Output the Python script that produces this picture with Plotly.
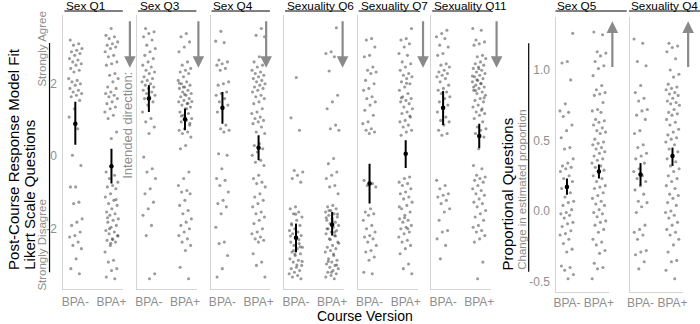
import plotly.graph_objects as go

# ---------------- data ----------------
categories = ["BPA-", "BPA+"]
left_questions = ["Sex Q1", "Sex Q3", "Sex Q4", "Sexuality Q6", "Sexuality Q7", "Sexuality Q11"]
right_questions = ["Sex Q5", "Sexuality Q4"]

sex_q1_minus = [3.19, 3.09, 3.05, 2.96, 2.91, 2.87, 2.82, 2.77, 2.68, 2.64, 2.59, 2.54, 2.50, 2.41, 2.36, 2.31,
                2.13, 2.08, 2.04, 1.99, 1.95, 1.86, 1.81, 1.76, 1.72, 1.67, 1.63, 1.53, 1.30, 1.07, 0.75, 0.02,
                -0.26, -0.85, -0.85, -1.27, -1.31, -1.73, -1.82, -1.91, -2.09, -2.19, -2.23, -2.37, -2.46, -2.55,
                -2.83, -3.10, -3.24]
sex_q1_plus = [3.51, 3.32, 3.28, 3.23, 3.14, 3.09, 3.05, 3.00, 2.96, 2.87, 2.77, 2.73, 2.59, 2.54, 2.50, 2.27,
               2.22, 2.13, 2.04, 1.90, 1.86, 1.76, 1.72, 1.67, 1.63, 1.58, 1.49, 1.44, 1.35, 1.30, 1.21, 1.12,
               1.03, 0.66, 0.48, -0.44, -0.53, -0.62, -0.72, -0.81, -0.85, -0.90, -1.04, -1.13, -1.22, -1.31,
               -1.36, -1.45, -1.54, -1.59, -1.63, -1.73, -1.77, -1.82, -1.91, -1.96, -2.05, -2.09, -2.14, -2.19,
               -2.28, -2.32, -2.37, -2.46, -2.64, -2.87, -2.92, -3.10, -3.15, -3.33, -3.38,
               -2.00, -2.20, -2.30, -1.70, -1.20, -2.40]
sex_q3_minus = [3.51, 3.42, 3.37, 3.28, 3.19, 3.05, 2.96, 2.87, 2.77, 2.68, 2.59, 2.50, 2.45, 2.36, 2.31, 2.27,
                2.18, 2.13, 2.08, 2.04, 1.99, 1.95, 1.90, 1.86, 1.81, 1.76, 1.72, 1.67, 1.63, 1.58, 1.49, 1.40,
                1.21, 1.03, 0.94, 0.80, 0.62, -0.03, -0.35, -0.44, -0.62, -0.90, -1.04, -1.27, -1.45, -1.63,
                -1.91, -2.19, -3.24, -3.38]
sex_q3_plus = [3.37, 3.28, 3.14, 3.00, 2.87, 2.59, 2.50, 2.41, 2.36, 2.31, 2.27, 2.18, 2.08, 2.04, 1.99, 1.95,
               1.90, 1.86, 1.81, 1.76, 1.72, 1.67, 1.63, 1.58, 1.53, 1.49, 1.44, 1.40, 1.35, 1.30, 1.21, 1.17,
               1.12, 1.03, 0.98, 0.94, 0.85, 0.75, 0.71, 0.66, 0.62, 0.52, 0.29, 0.20, -0.44, -0.62, -0.81,
               -0.95, -0.99, -1.04, -1.22, -1.36, -1.50, -1.59, -1.73, -1.82, -1.91, -2.00, -2.09, -2.19, -2.28,
               -2.37, -2.46, -2.60, -3.06, -3.38, 1.90, 1.50, 1.30, 1.10, 0.90, 1.70, 2.00, 1.45]
sex_q4_minus = [3.43, 3.16, 3.12, 2.64, 2.59, 2.54, 2.50, 2.41, 2.36, 2.04, 1.99, 1.95, 1.76, 1.72, 1.67, 1.58,
                1.49, 1.40, 1.30, 1.21, 0.85, 0.75, 0.71, 0.66, 0.06, 0.02, -0.35, -0.62, -0.67, -0.81, -0.99,
                -1.22, -1.31, -1.40, -1.59, -1.96, -2.37, -2.41, -2.74, -3.10, -3.33]
sex_q4_plus = [3.51, 3.32, 3.28, 2.73, 2.59, 2.50, 2.45, 2.36, 2.31, 2.27, 2.22, 2.18, 2.13, 2.08, 2.04, 1.99,
               1.95, 1.90, 1.86, 1.81, 1.76, 1.67, 1.63, 1.58, 1.49, 1.44, 1.30, 1.21, 1.17, 1.07, 1.03, 0.98,
               0.94, 0.89, 0.80, 0.66, 0.62, 0.34, 0.29, 0.20, 0.11, 0.02, -0.12, -0.17, -0.26, -0.53, -0.62,
               -0.72, -0.76, -0.85, -1.04, -1.13, -1.22, -1.31, -1.40, -1.54, -1.59, -1.68, -1.77, -1.86, -2.00,
               -2.09, -2.14, -2.23, -2.28, -2.32, -2.37, -2.69, -2.92, -3.01, -3.33]
sexuality_q6_minus = [2.16, 1.05, 0.71, -0.40, -0.44, -0.53, -0.62, -0.72, -1.40, -1.45, -1.54, -1.59, -1.68,
                      -1.77, -1.86, -1.91, -2.00, -2.05, -2.09, -2.14, -2.19, -2.28, -2.37, -2.41, -2.46, -2.51,
                      -2.55, -2.64, -2.69, -2.74, -2.83, -2.87, -2.92, -3.01, -3.06, -3.10, -3.15, -3.20, -3.24,
                      -3.29, -3.33, -3.38, -1.60, -2.20, -2.30, -2.60, -2.90, -3.00, -1.90, -2.50, -2.70]
sexuality_q6_plus = [3.53, 2.87, 2.82, 2.73, 2.34, 1.67, 1.49, 1.30, 0.85, 0.75, 0.71, -0.07, -0.21, -0.44,
                     -0.53, -0.62, -0.81, -0.85, -1.04, -1.36, -1.40, -1.45, -1.50, -1.54, -1.59, -1.63, -1.68,
                     -1.73, -1.77, -1.82, -1.86, -1.91, -1.96, -2.00, -2.05, -2.09, -2.14, -2.19, -2.28, -2.37,
                     -2.46, -2.51, -2.55, -2.60, -2.64, -2.74, -2.83, -2.87, -2.92, -2.97, -3.01, -3.06, -3.10,
                     -3.15, -3.20, -3.24, -3.29, -3.33, -3.38, -1.50, -1.60, -1.80, -2.00, -2.20, -2.30, -2.40,
                     -2.70, -2.90, -3.00, -3.20, -1.70, -2.10]
sexuality_q7_minus = [3.23, 3.19, 3.00, 2.77, 2.73, 2.45, 2.36, 2.31, 2.27, 2.08, 1.99, 1.86, 1.81, 1.63, 1.58,
                      1.49, 1.40, 1.26, 1.12, 0.94, 0.89, 0.75, 0.71, 0.66, 0.62, -0.67, -0.76, -0.81, -0.85,
                      -1.45, -1.54, -1.59, -1.63, -1.77, -1.91, -2.00, -2.09, -2.19, -2.23, -2.28, -2.37, -2.46,
                      -2.60, -2.64, -2.78, -2.87, -3.20, -3.24]
sexuality_q7_plus = [3.51, 3.23, 3.19, 3.09, 3.00, 2.82, 2.77, 2.59, 2.54, 2.45, 2.36, 2.27, 2.22, 2.18, 2.13,
                     2.04, 1.99, 1.90, 1.81, 1.72, 1.63, 1.58, 1.53, 1.49, 1.44, 1.35, 1.30, 1.21, 1.17, 1.07,
                     0.98, 0.94, 0.85, 0.80, 0.71, 0.66, 0.57, -0.58, -0.62, -0.72, -0.76, -0.81, -0.90, -0.99,
                     -1.04, -1.13, -1.18, -1.27, -1.36, -1.45, -1.54, -1.63, -1.73, -1.77, -1.82, -1.91, -1.96,
                     -2.00, -2.09, -2.14, -2.23, -2.32, -2.37, -2.46, -2.55, -2.69, -2.97, -3.10, -3.24,
                     2.00, 1.60, 1.10, -1.70, -1.40, -2.00]
sexuality_q11_minus = [3.46, 3.37, 3.28, 3.23, 3.05, 3.00, 2.82, 2.77, 2.54, 2.50, 2.45, 2.36, 2.31, 2.27, 2.22,
                       2.18, 2.13, 2.04, 1.95, 1.86, 1.81, 1.76, 1.72, 1.63, 1.58, 1.49, 1.40, 1.30, 1.21, 1.07,
                       0.98, 0.94, 0.85, 0.71, 0.62, 0.57, -0.67, -0.81, -0.90, -1.04, -1.08, -1.13, -1.22, -1.31,
                       -1.45, -1.54, -1.77, -2.05, -2.09, -2.28, -2.46, -2.83]
sexuality_q11_plus = [3.51, 3.46, 3.19, 3.14, 3.09, 3.05, 2.77, 2.73, 2.68, 2.59, 2.54, 2.50, 2.45, 2.41, 2.36,
                      2.31, 2.27, 2.22, 2.18, 2.13, 2.08, 2.04, 1.99, 1.95, 1.90, 1.86, 1.81, 1.76, 1.72, 1.67,
                      1.58, 1.53, 1.49, 1.40, 1.35, 1.26, 1.21, 1.17, 1.12, 1.03, 0.94, 0.80, 0.75, 0.71, 0.62,
                      0.52, 0.20, -0.26, -0.35, -0.53, -0.58, -0.62, -0.67, -0.72, -0.81, -0.90, -0.95, -1.04,
                      -1.08, -1.18, -1.27, -1.31, -1.40, -1.50, -1.59, -1.68, -1.77, -1.91, -1.96, -2.05, -2.09,
                      -2.19, -2.28, -2.37, -2.92, -3.38, 2.20, 2.00, 1.80, 1.60, 2.40, 1.90, 1.30, 2.10]

sex_q5_minus = [1.26, 1.06, 1.05, 0.93, 0.76, 0.71, 0.70, 0.67, 0.61, 0.57, 0.52, 0.45, 0.44, 0.37, 0.34, 0.32,
                0.31, 0.30, 0.28, 0.25, 0.23, 0.21, 0.18, 0.16, 0.13, 0.10, 0.07, 0.06, 0.04, 0.01, -0.01, -0.02,
                -0.03, -0.05, -0.08, -0.09, -0.11, -0.14, -0.16, -0.17, -0.20, -0.23, -0.27, -0.29, -0.39, -0.40,
                -0.42, -0.45, -0.48]
sex_q5_plus = [1.27, 1.25, 1.13, 1.12, 1.10, 1.06, 1.03, 1.01, 0.96, 0.89, 0.86, 0.84, 0.83, 0.82, 0.77, 0.72,
               0.71, 0.70, 0.65, 0.64, 0.63, 0.61, 0.59, 0.57, 0.56, 0.55, 0.51, 0.49, 0.48, 0.47, 0.45, 0.44,
               0.42, 0.41, 0.39, 0.37, 0.36, 0.34, 0.32, 0.31, 0.29, 0.28, 0.25, 0.23, 0.21, 0.18, 0.17, 0.16,
               0.13, 0.11, 0.09, 0.07, 0.05, 0.04, 0.01, -0.01, -0.02, -0.04, -0.07, -0.08, -0.10, -0.13, -0.15,
               -0.20, -0.22, -0.24, -0.28, -0.30, -0.37, -0.40, -0.41, -0.48]
sexuality_q4_minus = [1.22, 1.19, 1.06, 1.03, 0.89, 0.84, 0.80, 0.78, 0.72, 0.71, 0.68, 0.65, 0.57, 0.55, 0.47,
                      0.45, 0.41, 0.39, 0.37, 0.34, 0.30, 0.28, 0.25, 0.23, 0.21, 0.18, 0.15, 0.12, 0.07, 0.06,
                      0.03, -0.01, -0.10, -0.13, -0.15, -0.17, -0.20, -0.28, -0.29, -0.31, -0.36, -0.41]
sexuality_q4_plus = [1.19, 1.17, 1.16, 1.13, 1.08, 1.00, 0.97, 0.95, 0.90, 0.88, 0.87, 0.86, 0.84, 0.83, 0.82,
                     0.80, 0.78, 0.77, 0.76, 0.75, 0.72, 0.70, 0.69, 0.68, 0.65, 0.63, 0.61, 0.58, 0.56, 0.54,
                     0.52, 0.51, 0.49, 0.47, 0.44, 0.42, 0.39, 0.37, 0.35, 0.32, 0.30, 0.28, 0.25, 0.23, 0.21,
                     0.18, 0.16, 0.12, 0.11, 0.09, 0.06, 0.04, 0.00, -0.01, -0.03, -0.05, -0.08, -0.10, -0.13,
                     -0.15, -0.17, -0.20, -0.24, -0.29, -0.35, -0.36, -0.42, -0.48]

left_points_minus = [sex_q1_minus, sex_q3_minus, sex_q4_minus, sexuality_q6_minus, sexuality_q7_minus, sexuality_q11_minus]
left_points_plus = [sex_q1_plus, sex_q3_plus, sex_q4_plus, sexuality_q6_plus, sexuality_q7_plus, sexuality_q11_plus]
right_points_minus = [sex_q5_minus, sexuality_q4_minus]
right_points_plus = [sex_q5_plus, sexuality_q4_plus]

# model fit estimates and intervals
left_mean_minus = [0.89, 1.58, 1.33, -2.25, -0.76, 1.33]
left_low_minus = [0.31, 1.21, 0.89, -2.65, -1.31, 0.85]
left_high_minus = [1.49, 1.95, 1.76, -1.86, -0.21, 1.79]
left_mean_plus = [-0.28, 1.01, 0.23, -1.89, 0.06, 0.55]
left_low_plus = [-0.76, 0.71, -0.12, -2.19, -0.33, 0.22]
left_high_plus = [0.20, 1.30, 0.57, -1.54, 0.43, 0.89]
right_mean_minus = [0.17, 0.26]
right_low_minus = [0.115, 0.18]
right_high_minus = [0.23, 0.34]
right_mean_plus = [0.28, 0.39]
right_low_plus = [0.23, 0.32]
right_high_plus = [0.33, 0.45]

left_ticks = [-2, 0, 2]
right_ticks = [-0.5, 0.0, 0.5, 1.0]
right_tick_labels = ["-0.5", "0.0", "0.5", "1.0"]

# ---------------- layout constants ----------------
W, H = 700, 324
FONT = "Liberation Sans, Arial, sans-serif"
GRAY_TXT = "#8f8f8f"
PANEL_LINE = "#d4d4d4"
ARROW_COL = "#8a8a8a"
XR = [0.67, 2.33]
LEFT_YR = [-3.66, 3.88]
RIGHT_YR = [-0.574, 1.376]


def fx(px):
    return px / W


def fy(py):
    return 1 - py / H


def jitter(n, width, phase):
    return [(((k * 0.6180339887 + phase) % 1.0) - 0.5) * 2 * width for k in range(n)]


fig = go.Figure()
annotations = []
shapes = []

panels = []
for i, q in enumerate(left_questions):
    left = 61 + 74.3 * i
    panels.append(dict(q=q, left=left, width=60.6, top=15, bottom=289, yr=LEFT_YR,
                       pm=left_points_minus[i], pp=left_points_plus[i],
                       mm=left_mean_minus[i], lm=left_low_minus[i], hm=left_high_minus[i],
                       mp=left_mean_plus[i], lp=left_low_plus[i], hp=left_high_plus[i],
                       jw=0.19, up=False, ul=59, tx=1,
                       ax=[2.51, 2.37, 2.21, 2.29, 2.48, 2.48][i]))
for j, q in enumerate(right_questions):
    left = 559 + 74.3 * j
    panels.append(dict(q=q, left=left, width=53.6, top=17, bottom=292, yr=RIGHT_YR,
                       pm=right_points_minus[j], pp=right_points_plus[j],
                       mm=right_mean_minus[j], lm=right_low_minus[j], hm=right_high_minus[j],
                       mp=right_mean_plus[j], lp=right_low_plus[j], hp=right_high_plus[j],
                       jw=0.22, up=True, ul=72, tx=-1,
                       ax=[2.42, 2.49][j]))

for n, p in enumerate(panels, start=1):
    xa = "x" if n == 1 else f"x{n}"
    ya = "y" if n == 1 else f"y{n}"
    for c, (vals, ph) in enumerate([(p["pm"], 0.13 * n), (p["pp"], 0.37 + 0.11 * n)]):
        xs = [c + 1 + d for d in jitter(len(vals), p["jw"], ph)]
        fig.add_trace(go.Scatter(x=xs, y=vals, mode="markers", xaxis=xa, yaxis=ya,
                                 marker=dict(size=3.1, color="rgba(55,55,55,0.5)", line=dict(width=0)),
                                 showlegend=False, hoverinfo="skip"))
    means = [p["mm"], p["mp"]]
    fig.add_trace(go.Scatter(
        x=[1, 2], y=means, mode="markers", xaxis=xa, yaxis=ya,
        marker=dict(size=4.5, color="black", symbol="circle"),
        error_y=dict(type="data", symmetric=False,
                     array=[p["hm"] - p["mm"], p["hp"] - p["mp"]],
                     arrayminus=[p["mm"] - p["lm"], p["mp"] - p["lp"]],
                     color="black", thickness=2, width=0),
        showlegend=False, hoverinfo="skip"))

    first = n in (1, 7)
    dom_x = [fx(p["left"]), fx(p["left"] + p["width"])]
    dom_y = [fy(p["bottom"]), fy(p["top"])]
    xkey = "xaxis" if n == 1 else f"xaxis{n}"
    ykey = "yaxis" if n == 1 else f"yaxis{n}"
    fig.update_layout({
        xkey: dict(domain=dom_x, range=XR, anchor=ya, tickvals=[1, 2], ticktext=categories,
                   showline=True, linecolor=PANEL_LINE, linewidth=1, showgrid=False, zeroline=False,
                   ticks="", tickfont=dict(family=FONT, size=12, color=GRAY_TXT),
                   ticklabelstandoff=2 if n <= 6 else 0, fixedrange=True),
        ykey: dict(domain=dom_y, range=p["yr"], anchor=xa, showline=True, linecolor=PANEL_LINE,
                   linewidth=1, showgrid=False, zeroline=False, ticks="",
                   showticklabels=first,
                   tickvals=left_ticks if n == 1 else right_ticks,
                   ticktext=[str(t) for t in left_ticks] if n == 1 else right_tick_labels,
                   tickfont=dict(family=FONT, size=12, color=GRAY_TXT),
                   ticklabelstandoff=3, fixedrange=True),
    })

    # strip title + underline (anchored to the panel's own x domain)
    annotations.append(dict(text=p["q"], xref=f"{xa} domain", yref="paper",
                            x=p["tx"] / p["width"], y=fy(6),
                            xanchor="left", yanchor="middle", showarrow=False, align="left",
                            font=dict(family=FONT, size=11.8, color="black")))
    shapes.append(dict(type="line", xref=f"{xa} domain", yref="paper",
                       x0=p["tx"] / p["width"], x1=(p["tx"] + p["ul"]) / p["width"], y0=fy(11), y1=fy(11),
                       line=dict(color="black", width=1)))

    # intended direction arrow
    arrow_x = fx(p["left"] + (p["ax"] - XR[0]) / (XR[1] - XR[0]) * p["width"])
    if p["up"]:
        head, tail = 1.345, 1.01
    else:
        head, tail = 2.43, 3.75
    annotations.append(dict(text="", x=arrow_x, y=head, xref="paper", yref=ya,
                            ax=0, ay=tail, axref="pixel", ayref=ya, showarrow=True,
                            arrowhead=2, arrowsize=1.05, arrowwidth=2.2, arrowcolor=ARROW_COL,
                            standoff=0, startstandoff=0))

# range-frame axis lines
shapes.append(dict(type="line", xref="paper", yref="y", x0=fx(47), x1=fx(47), y0=-3.2, y1=3.11,
                   line=dict(color="black", width=1.2)))
shapes.append(dict(type="line", xref="paper", yref="y7", x0=fx(531), x1=fx(531), y0=-0.43, y1=1.19,
                   line=dict(color="black", width=1.2)))

# axis titles and notes
def rot_text(text, x, y, yanchor, size, color):
    return dict(text=text, xref="paper", yref="paper", x=fx(x), y=fy(y), xanchor="center",
                yanchor=yanchor, textangle=-90, showarrow=False,
                font=dict(family=FONT, size=size, color=color))

annotations += [
    rot_text("Post-Course Response Model Fit", 10, 272, "bottom", 15, "black"),
    rot_text("Likert Scale Questions", 26, 272, "bottom", 15, "black"),
    rot_text("Strongly Agree", 38.5, 10, "top", 11.5, GRAY_TXT),
    rot_text("Strongly Disagree", 38.5, 293, "bottom", 11.5, GRAY_TXT),
    rot_text("Intended direction:", 126, 125, "middle", 13, GRAY_TXT),
    rot_text("Proportional Questions", 510, 272, "bottom", 15, "black"),
    rot_text("Change in estimated proportion", 524, 272, "bottom", 11.5, GRAY_TXT),
    dict(text="Course Version", xref="paper", yref="paper", x=fx(366), y=fy(316), xanchor="center",
         yanchor="middle", showarrow=False, font=dict(family=FONT, size=14, color="black")),
]

fig.update_layout(width=W, height=H, autosize=False, margin=dict(l=0, r=0, t=0, b=0),
                  paper_bgcolor="white", plot_bgcolor="white", showlegend=False,
                  font=dict(family=FONT), annotations=annotations, shapes=shapes)

fig.write_html("out.html", config={"displayModeBar": False},
               post_script="document.body.style.margin='0';")
